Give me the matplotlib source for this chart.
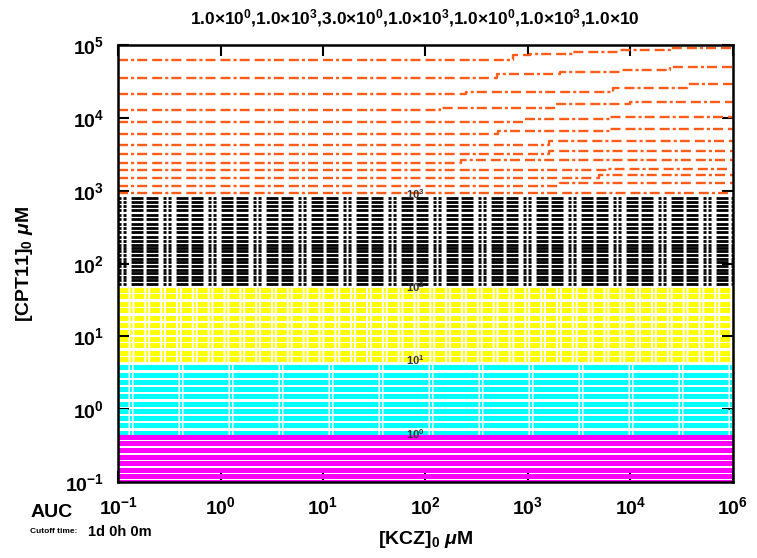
import matplotlib
matplotlib.use("Agg")
import matplotlib.pyplot as plt
import numpy as np

# AUC contour levels (y values in uM of CPT11)
orange_x = [
    [0.1, 710, 1050, 2750, 7900, 24500],
    [0.1, 500, 2040, 7900, 24500],
    [0.1, 250, 6800, 35500],
    [0.1, 138, 1780, 10000],
    [0.1, 890, 6300],
    [0.1, 510, 6300],
    [0.1, 1620],
    [0.1, 1620],
    [0.1, 220],
    [0.1, 5900],
    [0.1, 5000],
    [0.1, 2040],
    [0.1],
]
orange_y = [
    [61700, 72400, 75900, 79400, 85100, 91200],
    [36000, 40100, 42400, 46100, 49700],
    [21200, 23100, 25600, 29200],
    [12900, 13900, 15400, 16800],
    [8900, 9700, 10400],
    [6100, 6600, 7000],
    [4300, 4800],
    [3200, 3500],
    [2410, 2620],
    [1910, 2010],
    [1490, 1630],
    [1180, 1290],
    [935],
]
black_y = [800, 710, 620, 540, 470, 410, 355, 310, 270, 235, 205, 182,
           166, 148, 132, 117, 105, 93, 83, 74, 66, 59, 52]
yellow_y = [44, 35.5, 28.2, 22.9, 18.2, 14.5, 11.7, 9.3, 7.6, 6.0, 4.9]
cyan_y = [3.8, 3.0, 2.4, 1.9, 1.5, 1.2, 0.95, 0.76, 0.60, 0.48]
magenta_y = [0.42, 0.34, 0.275, 0.224, 0.182, 0.148, 0.120, 0.100]

label_x = [80, 80, 80, 80]
label_y = [900, 48, 4.8, 0.45]
label_txt = [r"10$^3$", r"10$^2$", r"10$^1$", r"10$^0$"]

x_ticks = [0.1, 1, 10, 100, 1000, 10000, 100000]
x_ticklabels = [r"$\mathbf{10^{-1}}$", r"$\mathbf{10^{0}}$", r"$\mathbf{10^{1}}$",
                r"$\mathbf{10^{2}}$", r"$\mathbf{10^{3}}$", r"$\mathbf{10^{4}}$",
                r"$\mathbf{10^{6}}$"]
y_ticks = [0.1, 1, 10, 100, 1000, 10000, 100000]
y_ticklabels = [r"$\mathbf{10^{-1}}$", r"$\mathbf{10^{0}}$", r"$\mathbf{10^{1}}$",
                r"$\mathbf{10^{2}}$", r"$\mathbf{10^{3}}$", r"$\mathbf{10^{4}}$",
                r"$\mathbf{10^{5}}$"]

title = (r"1.0$\times$10$^0$,1.0$\times$10$^3$,3.0$\times$10$^0$,"
         r"1.0$\times$10$^3$,1.0$\times$10$^0$,1.0$\times$10$^3$,1.0$\times$10")

plt.rcParams['font.family'] = ['Liberation Sans', 'DejaVu Sans']
plt.rcParams['font.weight'] = 'bold'
plt.rcParams['mathtext.fontset'] = 'custom'
plt.rcParams['mathtext.rm'] = 'Liberation Sans:bold'
plt.rcParams['mathtext.bf'] = 'Liberation Sans:bold'
plt.rcParams['mathtext.it'] = 'Liberation Sans:bold:italic'
plt.rcParams['lines.scale_dashes'] = False

fig = plt.figure(figsize=(7.57, 5.58), dpi=100)
ax = fig.add_axes([0.156, 0.136, 0.812, 0.783])

x_end = 100000

# orange: stepped contours
for xs, ys in zip(orange_x, orange_y):
    ax.step(list(xs) + [x_end], list(ys) + [ys[-1]], where='post',
            color='#ff5c1a', lw=1.7,
            linestyle=(0, (7.2, 2.2, 2.2, 2.2, 7.2, 3.6)))

for y in black_y:
    ax.plot([0.1, x_end], [y, y], color='black', lw=2.0,
            linestyle=(0, (2.2, 1.4, 2.2, 3.6, 8.6, 2.2, 8.6, 3.6)))

for y in yellow_y:
    ax.plot([0.1, x_end], [y, y], color='#ffff00', lw=3.6,
            linestyle=(0, (7.2, 1.4, 1.4, 1.4)))

for y in cyan_y:
    ax.plot([0.1, x_end], [y, y], color='#00ffff', lw=3.6,
            linestyle=(25.2, (32.4, 1.1, 1.4, 1.1)))

for y in magenta_y:
    ax.plot([0.1, x_end], [y, y], color='#ff00ff', lw=3.6)

for lx, ly, lt in zip(label_x, label_y, label_txt):
    ax.text(lx, ly, lt, fontsize=8, color='#333333', ha='center', va='center')

ax.set_xscale('log')
ax.set_yscale('log')
ax.set_xlim(0.1, x_end)
ax.set_ylim(0.1, 100000)
ax.minorticks_off()
ax.set_xticks(x_ticks)
ax.set_xticklabels(x_ticklabels)
ax.set_yticks(y_ticks)
ax.set_yticklabels(y_ticklabels)
ax.tick_params(direction='in', length=8, width=1.5, labelsize=14,
               top=True, right=True, pad=10)
for sp in ax.spines.values():
    sp.set_linewidth(1.8)

ax.set_xlabel(r"[KCZ]$_0$ $\mu$M", fontsize=14, fontweight='bold', labelpad=8)
ax.set_ylabel(r"[CPT11]$_0$ $\mu$M", fontsize=14, fontweight='bold', labelpad=22)

fig.text(0.548, 0.968, title, fontsize=12.5, fontweight='bold', ha='center', va='center')
fig.text(0.040, 0.082, "AUC", fontsize=14, fontweight='bold', ha='left', va='center')
fig.text(0.040, 0.047, "Cutoff time:", fontsize=6, fontweight='bold', ha='left', va='center')
fig.text(0.116, 0.047, "1d 0h 0m", fontsize=10.5, fontweight='bold', ha='left', va='center')

fig.savefig("out.png", dpi=100)
